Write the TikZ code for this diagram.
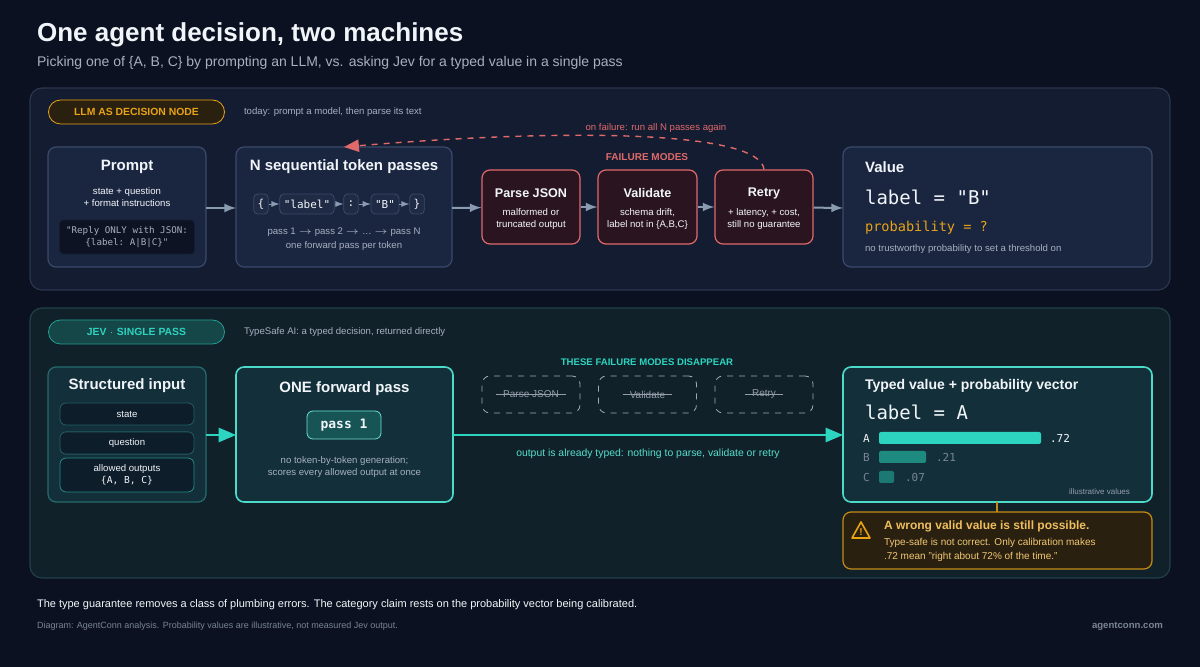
\documentclass[tikz,border=0pt]{standalone}
\usepackage{fontspec}
\setmainfont{Liberation Sans}
\setmonofont{DejaVu Sans Mono}
\usetikzlibrary{shapes,arrows,positioning}
\definecolor{bgc}{HTML}{0B1120}
\definecolor{panA}{HTML}{131C31}
\definecolor{panAb}{HTML}{2A3550}
\definecolor{boxA}{HTML}{1A2540}
\definecolor{boxAb}{HTML}{3A4A6A}
\definecolor{panB}{HTML}{10212A}
\definecolor{panBb}{HTML}{21404A}
\definecolor{boxB}{HTML}{13303A}
\definecolor{teal}{HTML}{2DD4BF}
\definecolor{tealdk}{HTML}{1E8A80}
\definecolor{redb}{HTML}{E06A6A}
\definecolor{redf}{HTML}{2A1420}
\definecolor{gold}{HTML}{E8A317}
\definecolor{goldf}{HTML}{2A2010}
\definecolor{txt}{HTML}{F1F5F9}
\definecolor{sub}{HTML}{A7B0C0}
\definecolor{dim}{HTML}{7A8494}
\definecolor{arr}{HTML}{8A9AB0}
\tikzstyle{panel} = [draw, rounded corners=6pt, line width=0.6pt]
\tikzstyle{block} = [draw=boxAb, fill=boxA, rounded corners=4pt, line width=0.6pt]
\tikzstyle{fail} = [draw=redb, fill=redf, rounded corners=4pt, line width=0.6pt]
\tikzstyle{tok} = [draw=boxAb, fill=boxA!70!panAb, rounded corners=2pt, font=\ttfamily\fontsize{5.5}{6}\selectfont, text=txt, minimum height=10pt, inner sep=2pt]
\tikzstyle{sbox} = [draw=panBb!80!teal, fill=bgc!60!boxB, rounded corners=3pt, minimum width=67pt, text=txt, font=\fontsize{4.8}{6}\selectfont, align=center]
\tikzstyle{ghost} = [draw=dim!70, dashed, rounded corners=4pt, minimum width=49pt, minimum height=18.5pt]
\tikzstyle{badge} = [draw, rounded corners=6pt, minimum width=88pt, minimum height=12pt, font=\bfseries\fontsize{5.2}{6}\selectfont]
\tikzstyle{line} = [draw=arr, line width=1pt, -latex]
\tikzstyle{ttl} = [font=\bfseries\fontsize{7.5}{9}\selectfont, text=txt]
\tikzstyle{note} = [font=\fontsize{4.8}{6.2}\selectfont, text=sub, align=center]
\begin{document}
\begin{tikzpicture}[x=0.5pt, y=-0.5pt]
\fill[bgc] (0,0) rectangle (1200,667);
\useasboundingbox (0,0) rectangle (1200,667);
% heading
\node[anchor=west, font=\bfseries\fontsize{13}{15}\selectfont, text=txt] (title) at (30,35) {One agent decision, two machines};
\node[anchor=west, font=\fontsize{7}{8}\selectfont, text=sub] (subtitle) at (30,63) {Picking one of \{A, B, C\} by prompting an LLM, vs. asking Jev for a typed value in a single pass};
% upper panel
\draw[panel, draw=panAb, fill=panA] (30,88) rectangle (1170,290);
\node[badge, draw=gold, fill=goldf, text=gold] (llmtag) at (136.5,112) {LLM AS DECISION NODE};
\node[anchor=west, note] at (237,112) {today: prompt a model, then parse its text};
\draw[block] (48,147) rectangle (206,267);
\node[ttl] (prompt) at (127,167) {Prompt};
\node[note, text=txt!85] at (127,197) {state + question\\+ format instructions};
\node[draw=panA, fill=bgc!80!panA, rounded corners=2pt, minimum width=64pt, minimum height=15pt, align=center, text=sub, font=\ttfamily\fontsize{4.6}{5.6}\selectfont] (code) at (127,237) {"Reply ONLY with JSON:\\\{label: A|B|C\}"};
\coordinate (promptR) at (206,208);
\draw[block] (236,147) rectangle (452,267);
\node[ttl] (passes) at (344,167) {N sequential token passes};
\node[tok] (t1) at (261,204) {\{};
\node[tok] (t2) at (307,204) {"label"};
\node[tok] (t3) at (351,204) {:};
\node[tok] (t4) at (385,204) {"B"};
\node[tok] (t5) at (417,204) {\}};
\foreach \a/\b in {t1/t2,t2/t3,t3/t4,t4/t5}
  \draw[arr, -latex, line width=0.4pt] (\a) -- (\b);
\node[note] at (344,239) {pass 1 $\rightarrow$ pass 2 $\rightarrow$ \dots\ $\rightarrow$ pass N\\[1pt]one forward pass per token};
\coordinate (passesL) at (236,208);
\coordinate (passesR) at (452,208);
\coordinate (passesT) at (344,147);
\node[font=\bfseries\fontsize{5}{6}\selectfont, text=redb] (fm) at (647,157) {FAILURE MODES};
\node[fail, minimum width=49pt, minimum height=37pt] (parse) at (531,207) {};
\node[fail, minimum width=49.5pt, minimum height=37pt] (valid) at (647.5,207) {};
\node[fail, minimum width=49pt, minimum height=37pt] (retry) at (764,207) {};
\node[font=\bfseries\fontsize{6.3}{7}\selectfont, text=txt] at (531,193) {Parse JSON};
\node[note, text=txt!80] at (531,219) {malformed or\\truncated output};
\node[font=\bfseries\fontsize{6.3}{7}\selectfont, text=txt] at (647.5,193) {Validate};
\node[note, text=txt!80] at (647.5,219) {schema drift,\\label not in \{A,B,C\}};
\node[font=\bfseries\fontsize{6.3}{7}\selectfont, text=txt] at (764,193) {Retry};
\node[note, text=txt!80] at (764,219) {+ latency, + cost,\\still no guarantee};
\draw[block] (843,147) rectangle (1152,267);
\node[anchor=west, ttl] (value) at (858,167) {Value};
\node[anchor=west, font=\ttfamily\fontsize{9.5}{11}\selectfont, text=txt] at (858,197) {label = "B"};
\node[anchor=west, font=\ttfamily\fontsize{6.8}{8}\selectfont, text=gold] at (858,228) {probability = ?};
\node[anchor=west, note] at (858,249) {no trustworthy probability to set a threshold on};
\coordinate (valueL) at (843,208);
\path[line] (promptR) -- (passesL);
\path[line] (passesR) -- (parse);
\path[line] (parse) -- (valid);
\path[line] (valid) -- (retry);
\path[line] (retry) -- (valueL);
\draw[redb, dashed, line width=0.7pt, -triangle 45] (retry.north) .. controls (760,130) and (560,128) .. node[pos=0.45, above=-1pt, font=\fontsize{4.8}{6}\selectfont, text=redb] {on failure: run all N passes again} (passesT);
% lower panel
\draw[panel, draw=panBb, fill=panB] (30,308) rectangle (1170,578);
\node[badge, draw=teal!70!panB, fill=tealdk!35!panB, text=teal] (jevtag) at (136.5,332) {JEV $\cdot$ SINGLE PASS};
\node[anchor=west, note] at (237,332) {TypeSafe AI: a typed decision, returned directly};
\draw[panel, draw=panBb!70!teal, fill=boxB, rounded corners=4pt] (48,367) rectangle (206,502);
\node[ttl] (input) at (127,386) {Structured input};
\node[sbox, minimum height=11pt] (state) at (127,414) {state};
\node[sbox, minimum height=11pt] (question) at (127,443) {question};
\node[sbox, minimum height=15pt, draw=teal!60!panB] (allowed) at (127,475) {allowed outputs\\\texttt{\{A, B, C\}}};
\coordinate (inputR) at (206,435);
\draw[panel, draw=teal!85, fill=boxB, rounded corners=4pt, line width=0.8pt] (236,367) rectangle (453,502);
\node[ttl] (onepass) at (344.5,389) {ONE forward pass};
\node[draw=teal!70, fill=tealdk!40!boxB, rounded corners=3pt, minimum width=37pt, minimum height=14pt, font=\ttfamily\bfseries\fontsize{6.5}{7}\selectfont, text=txt] (pass1) at (344,425) {pass 1};
\node[note] at (344.5,467) {no token-by-token generation;\\scores every allowed output at once};
\coordinate (oneL) at (236,435);
\coordinate (oneR) at (453,435);
\node[font=\bfseries\fontsize{4.8}{6}\selectfont, text=teal] (gone) at (647,362) {THESE FAILURE MODES DISAPPEAR};
\foreach \x/\t/\n in {531/Parse JSON/g1, 647.5/Validate/g2, 764/Retry/g3} {
  \node[ghost] (\n) at (\x,394.5) {};
  \node[font=\fontsize{5}{6}\selectfont, text=dim!80] (\n t) at (\x,394.5) {\t};
  \draw[dim!80, line width=0.4pt] (\n t.west) -- (\n t.east);
}
\draw[panel, draw=teal!85, fill=boxB, rounded corners=4pt, line width=0.8pt] (843,367) rectangle (1152,502);
\coordinate (typedL) at (843,435);
\draw[teal, line width=1pt, -triangle 45] (inputR) -- (oneL);
\draw[teal, line width=1pt, -triangle 45] (oneR) -- node[below=3pt, font=\fontsize{5.2}{6}\selectfont, text=teal!80!white] {output is already typed: nothing to parse, validate or retry} (typedL);
\node[anchor=west, font=\bfseries\fontsize{7}{8}\selectfont, text=txt] (typed) at (858,386) {Typed value + probability vector};
\node[anchor=west, font=\ttfamily\fontsize{9.5}{11}\selectfont, text=txt] at (858,412) {label = A};
\node[anchor=west, font=\ttfamily\fontsize{5.5}{6}\selectfont, text=txt] at (856,438) {A};
\node[anchor=west, font=\ttfamily\fontsize{5.5}{6}\selectfont, text=dim] at (856,457) {B};
\node[anchor=west, font=\ttfamily\fontsize{5.5}{6}\selectfont, text=dim] at (856,477) {C};
\fill[teal, rounded corners=1pt] (879,432) rectangle (1041,444);
\fill[tealdk, rounded corners=1pt] (879,451) rectangle (926,463);
\fill[tealdk!80!boxB, rounded corners=1pt] (879,471) rectangle (894,483);
\node[anchor=west, font=\ttfamily\fontsize{5.5}{6}\selectfont, text=txt] at (1043,438) {.72};
\node[anchor=west, font=\ttfamily\fontsize{5.5}{6}\selectfont, text=dim] at (929,457) {.21};
\node[anchor=west, font=\ttfamily\fontsize{5.5}{6}\selectfont, text=dim] at (898,477) {.07};
\node[anchor=east, font=\fontsize{4}{5}\selectfont, text=dim!80] at (1137,492) {illustrative values};
\coordinate (typedB) at (997,502);
\draw[panel, draw=gold!85!black, fill=goldf, rounded corners=4pt] (843,512) rectangle (1152,569);
\coordinate (warnT) at (997,512);
\draw[gold!85!black, line width=0.6pt] (typedB) -- (warnT);
\draw[gold, line width=0.8pt, line join=round] (861,522) -- (852,538) -- (870,538) -- cycle;
\node[font=\bfseries\fontsize{5}{5}\selectfont, text=gold] at (861,532) {!};
\node[anchor=west, font=\bfseries\fontsize{6}{7}\selectfont, text=gold!70!white] (warn) at (877,526) {A wrong valid value is still possible.};
\node[anchor=west, font=\fontsize{5}{7}\selectfont, text=gold!60!white, align=left] at (877,550) {Type-safe is not correct. Only calibration makes\\.72 mean "right about 72\% of the time."};
% footer
\node[anchor=west, font=\fontsize{5.5}{7}\selectfont, text=txt!85] at (30,605) {The type guarantee removes a class of plumbing errors. The category claim rests on the probability vector being calibrated.};
\node[anchor=west, font=\fontsize{4.5}{6}\selectfont, text=dim] at (30,626) {Diagram: AgentConn analysis. Probability values are illustrative, not measured Jev output.};
\node[anchor=east, font=\bfseries\fontsize{4.8}{6}\selectfont, text=dim] at (1170,626) {agentconn.com};
\end{tikzpicture}
\end{document}
